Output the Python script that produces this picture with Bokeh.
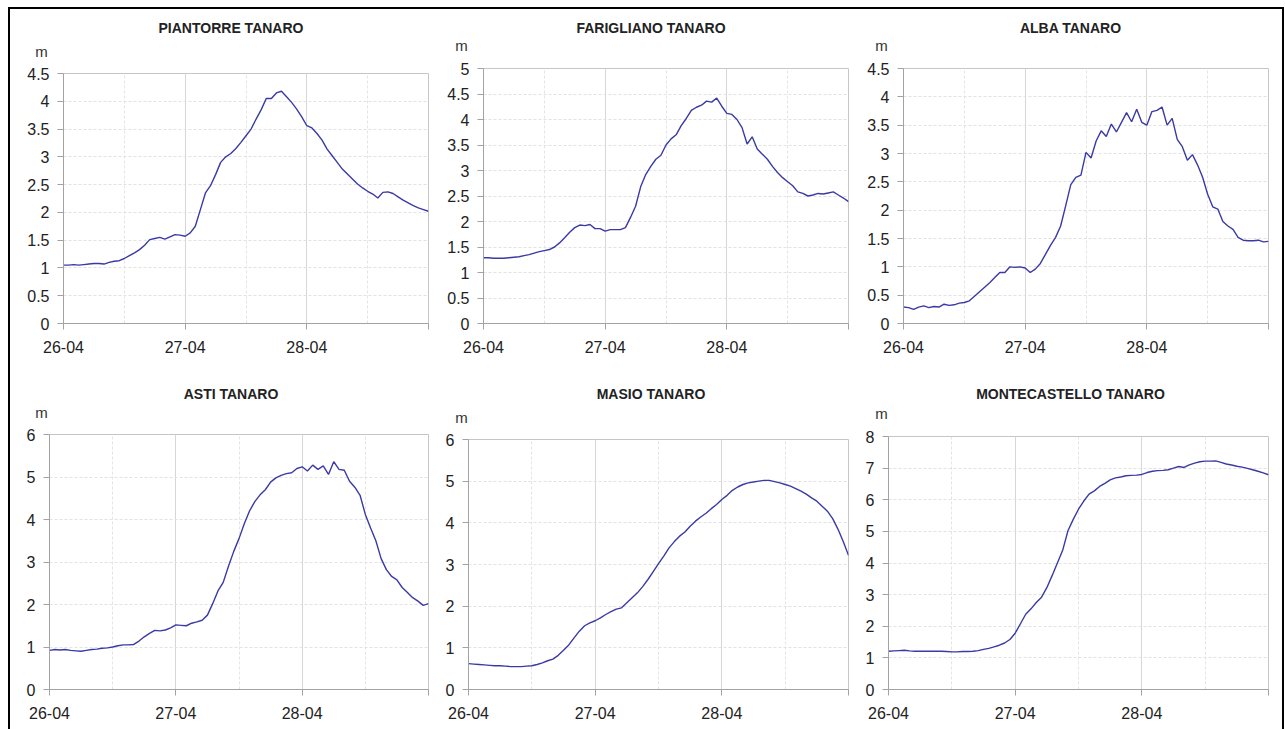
import pandas as pd
from bokeh.plotting import figure
from bokeh.models import Range1d, FixedTicker, DatetimeTickFormatter, Column, Row, Div
from bokeh.embed import file_html
from bokeh.resources import INLINE

# ---------------- data (hourly water levels, m) ----------------
times = pd.date_range("2009-04-26 00:00", "2009-04-29 00:00", freq="h")

piantorre = [1.05, 1.05, 1.06, 1.05, 1.06, 1.07, 1.08, 1.08, 1.07, 1.10, 1.12, 1.13,
             1.17, 1.22, 1.27, 1.33, 1.41, 1.51, 1.53, 1.55, 1.52, 1.56, 1.60, 1.59,
             1.57, 1.63, 1.75, 2.05, 2.35, 2.48, 2.68, 2.90, 3.00, 3.06, 3.15, 3.26,
             3.38, 3.50, 3.68, 3.85, 4.05, 4.05, 4.15, 4.18, 4.08, 3.98, 3.86, 3.72,
             3.56, 3.52, 3.42, 3.30, 3.14, 3.02, 2.90, 2.78, 2.69, 2.60, 2.51, 2.44,
             2.38, 2.33, 2.26, 2.36, 2.37, 2.34, 2.28, 2.22, 2.17, 2.12, 2.08, 2.05, 2.02]

farigliano = [1.29, 1.29, 1.28, 1.28, 1.28, 1.29, 1.30, 1.31, 1.33, 1.35, 1.38, 1.41,
              1.43, 1.45, 1.50, 1.58, 1.68, 1.79, 1.88, 1.93, 1.92, 1.94, 1.86, 1.86,
              1.81, 1.84, 1.84, 1.84, 1.88, 2.08, 2.30, 2.68, 2.92, 3.08, 3.22, 3.30,
              3.50, 3.62, 3.70, 3.88, 4.02, 4.18, 4.24, 4.28, 4.36, 4.34, 4.42, 4.26,
              4.12, 4.10, 4.00, 3.84, 3.52, 3.66, 3.42, 3.32, 3.22, 3.08, 2.96, 2.86,
              2.78, 2.70, 2.58, 2.55, 2.50, 2.52, 2.55, 2.54, 2.56, 2.58, 2.52, 2.46, 2.39]

alba = [0.29, 0.28, 0.25, 0.29, 0.31, 0.28, 0.30, 0.29, 0.34, 0.32, 0.33, 0.36,
        0.37, 0.40, 0.48, 0.56, 0.64, 0.72, 0.81, 0.90, 0.90, 1.00, 0.99, 1.00,
        0.98, 0.90, 0.96, 1.06, 1.22, 1.38, 1.52, 1.72, 2.08, 2.45, 2.58, 2.62,
        3.02, 2.92, 3.22, 3.40, 3.30, 3.52, 3.38, 3.55, 3.72, 3.56, 3.78, 3.55,
        3.50, 3.74, 3.76, 3.82, 3.50, 3.62, 3.25, 3.12, 2.88, 2.98, 2.80, 2.58,
        2.28, 2.06, 2.02, 1.80, 1.72, 1.66, 1.52, 1.47, 1.46, 1.46, 1.47, 1.44, 1.45]

asti = [0.92, 0.94, 0.93, 0.94, 0.92, 0.91, 0.90, 0.92, 0.94, 0.95, 0.97, 0.98,
        1.00, 1.03, 1.05, 1.05, 1.06, 1.14, 1.24, 1.32, 1.39, 1.38, 1.40, 1.45,
        1.52, 1.51, 1.50, 1.56, 1.59, 1.63, 1.75, 2.02, 2.32, 2.52, 2.90, 3.25,
        3.55, 3.90, 4.20, 4.42, 4.58, 4.70, 4.88, 4.98, 5.04, 5.08, 5.10, 5.20,
        5.24, 5.14, 5.28, 5.18, 5.26, 5.06, 5.36, 5.18, 5.16, 4.90, 4.76, 4.57,
        4.12, 3.80, 3.50, 3.08, 2.82, 2.66, 2.58, 2.40, 2.28, 2.16, 2.08, 1.98, 2.02]

masio = [0.62, 0.61, 0.60, 0.59, 0.58, 0.57, 0.57, 0.56, 0.55, 0.55, 0.55, 0.56,
         0.57, 0.60, 0.64, 0.69, 0.73, 0.82, 0.94, 1.07, 1.24, 1.40, 1.53, 1.60,
         1.65, 1.72, 1.80, 1.87, 1.93, 1.96, 2.08, 2.20, 2.32, 2.47, 2.64, 2.83,
         3.02, 3.20, 3.40, 3.55, 3.68, 3.78, 3.92, 4.04, 4.14, 4.23, 4.34, 4.44,
         4.56, 4.66, 4.78, 4.86, 4.92, 4.96, 4.98, 5.00, 5.02, 5.02, 4.99, 4.96,
         4.92, 4.88, 4.82, 4.76, 4.69, 4.60, 4.52, 4.40, 4.28, 4.10, 3.85, 3.55, 3.22]

montecastello = [1.21, 1.22, 1.23, 1.24, 1.22, 1.21, 1.21, 1.21, 1.21, 1.21, 1.21, 1.20,
                 1.19, 1.19, 1.20, 1.20, 1.21, 1.23, 1.27, 1.30, 1.35, 1.40, 1.47, 1.58,
                 1.78, 2.08, 2.38, 2.55, 2.75, 2.92, 3.22, 3.60, 4.00, 4.40, 5.02, 5.38,
                 5.70, 5.96, 6.18, 6.28, 6.42, 6.52, 6.63, 6.69, 6.72, 6.76, 6.77, 6.78,
                 6.80, 6.86, 6.90, 6.92, 6.93, 6.95, 7.00, 7.05, 7.02, 7.10, 7.16, 7.20,
                 7.22, 7.22, 7.23, 7.18, 7.13, 7.10, 7.06, 7.03, 6.99, 6.95, 6.90, 6.85, 6.79]

titles = ["PIANTORRE TANARO", "FARIGLIANO TANARO", "ALBA TANARO",
          "ASTI TANARO", "MASIO TANARO", "MONTECASTELLO TANARO"]
series = [piantorre, farigliano, alba, asti, masio, montecastello]
unit = "m"

day_ticks = ["2009-04-26", "2009-04-27", "2009-04-28", "2009-04-29"]
day_labels = ["26-04", "27-04", "28-04", ""]
half_day_ticks = ["2009-04-26 12:00", "2009-04-27 12:00", "2009-04-28 12:00"]

yticks_45 = [0, 0.5, 1, 1.5, 2, 2.5, 3, 3.5, 4, 4.5]
yticks_5 = [0, 0.5, 1, 1.5, 2, 2.5, 3, 3.5, 4, 4.5, 5]
yticks_6 = [0, 1, 2, 3, 4, 5, 6]
yticks_8 = [0, 1, 2, 3, 4, 5, 6, 7, 8]
y_ticks = [yticks_45, yticks_5, yticks_45, yticks_6, yticks_6, yticks_8]

# ---------------- layout / style ----------------
# (cell width, header height, figure height, border_left, border_right, border_top, border_bottom)
cells = [
    (424, 52, 309, 53, 6, 12, 47),
    (424, 47, 314, 49, 10, 12, 47),
    (424, 47, 314, 45, 14, 12, 47),
    (424, 52, 307, 39, 6, 12, 40),
    (424, 57, 302, 34, 10, 12, 40),
    (424, 54, 305, 30, 14, 12, 40),
]
# header text centres (x, y) relative to header top-left
title_pos = [(221, 19), (217, 19), (212.5, 19), (221, 24), (217, 24), (212.5, 24)]
unit_pos = [(31.5, 42.5), (27.5, 37), (23.5, 37), (31.5, 42.5), (27.5, 47.5), (23.5, 44)]

FONT = "Liberation Sans"
LINE_COLOR = "#3a3aa6"
AXIS_COLOR = "#a3a3a3"


def to_ms(s):
    return (pd.Timestamp(s) - pd.Timestamp("1970-01-01")) / pd.Timedelta(milliseconds=1)


tick_ms = [to_ms(s) for s in day_ticks]
minor_ms = [to_ms(s) for s in half_day_ticks]

panels = []
for i in range(6):
    cw, dh, fh, bl, br, bt, bb = cells[i]
    yt = y_ticks[i]
    p = figure(width=cw, height=fh, x_axis_type="datetime",
               x_range=Range1d(tick_ms[0], tick_ms[-1]),
               y_range=Range1d(yt[0], yt[-1]),
               output_backend="svg", toolbar_location=None,
               min_border_left=bl, min_border_right=br,
               min_border_top=bt, min_border_bottom=bb,
               background_fill_color="white", border_fill_color="white")
    p.outline_line_color = "#c6c6c6"
    p.outline_line_width = 1

    p.line(times, series[i], line_color=LINE_COLOR, line_width=1.4)

    xa = p.xaxis[0]
    xa.ticker = FixedTicker(ticks=tick_ms, minor_ticks=minor_ms)
    xa.formatter = DatetimeTickFormatter(days="%d-%m", months="%d-%m", hours="%d-%m",
                                         hourmin="%d-%m", minutes="%d-%m")
    xa.major_label_overrides = {t: lab for t, lab in zip(tick_ms, day_labels)}
    ya = p.yaxis[0]
    ya.ticker = FixedTicker(ticks=yt)
    ya.major_label_overrides = {v: f"{v:g}" for v in yt}

    for ax in (xa, ya):
        ax.axis_line_color = AXIS_COLOR
        ax.major_tick_line_color = AXIS_COLOR
        ax.minor_tick_line_color = None
        ax.major_tick_out = 6
        ax.major_tick_in = 0
        ax.major_label_text_font = FONT
        ax.major_label_text_font_size = "16px"
        ax.major_label_text_color = "#222222"
    xa.major_label_standoff = 11
    ya.major_label_standoff = 8

    p.xgrid.grid_line_color = "#d6d6d6"
    p.xgrid.minor_grid_line_color = "#e4e4e4"
    p.xgrid.minor_grid_line_dash = "3 2"
    p.ygrid.grid_line_color = "#e2e2e2"
    p.ygrid.grid_line_dash = "3 2"

    tx, ty = title_pos[i]
    ux, uy = unit_pos[i]
    html = (
        f'<div style="position:relative;width:{cw}px;height:{dh}px;'
        f'font-family:\'{FONT}\',Arial,sans-serif;">'
        f'<span style="position:absolute;left:{tx}px;top:{ty - 8}px;line-height:16px;'
        f'transform:translateX(-50%);white-space:nowrap;font-weight:bold;font-size:14px;'
        f'color:#222222;">{titles[i]}</span>'
        f'<span style="position:absolute;left:{ux}px;top:{uy - 9}px;line-height:18px;'
        f'transform:translateX(-50%);font-size:15px;color:#333333;">{unit}</span>'
        f'</div>'
    )
    header = Div(text=html, width=cw, height=dh, margin=(0, 0, 0, 0))
    panels.append(Column(children=[header, p], spacing=0))

layout = Column(children=[Row(children=panels[:3], spacing=0),
                          Row(children=panels[3:], spacing=0)],
                spacing=0, margin=(7, 0, 0, 8),
                styles={"border-top": "2px solid black", "border-left": "2px solid black",
                        "border-right": "2px solid black"})

open("out.html", "w").write(file_html(layout, INLINE))
